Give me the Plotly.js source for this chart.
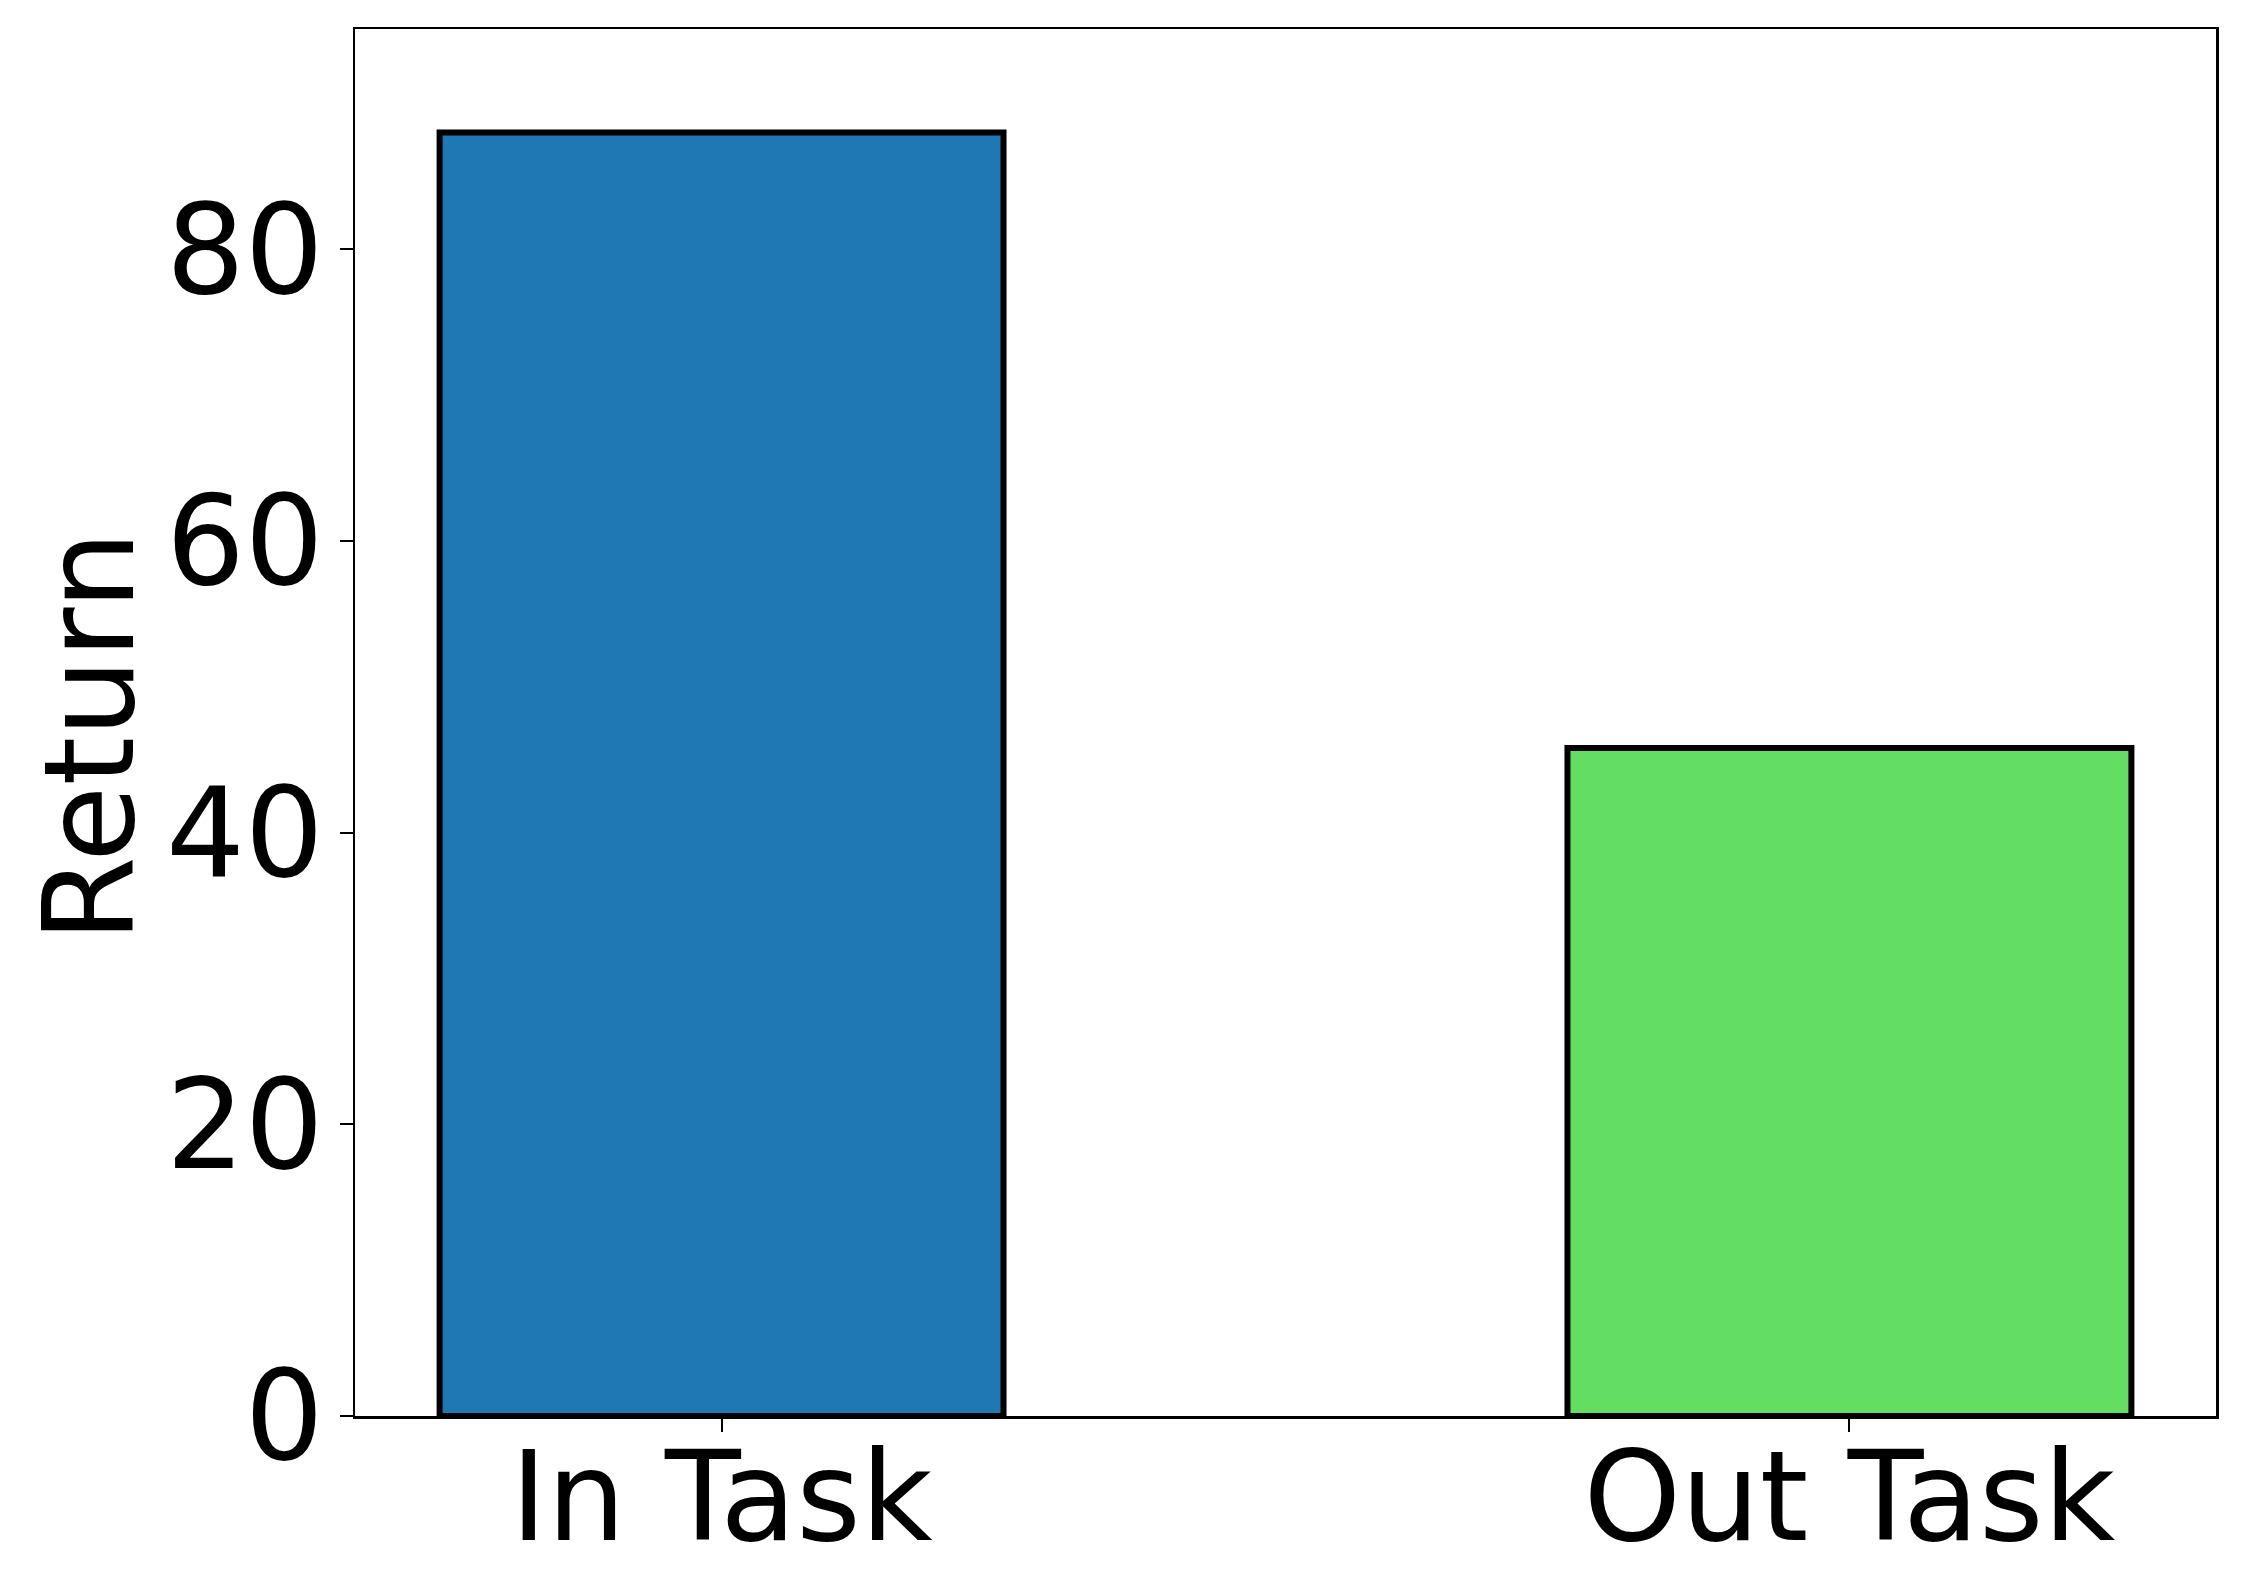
<!DOCTYPE html>
<html>
<head>
<meta charset="utf-8">
<script src="https://cdn.plot.ly/plotly-3.0.1.min.js"></script>
<style>
  html, body { margin: 0; padding: 0; background: #fff; }
  #chart { width: 2245px; height: 1596px; }
</style>
</head>
<body>
<div id="chart"></div>
<script>
// ── Data ──────────────────────────────────────────────────────────────────────
const categories = ['In Task', 'Out Task'];
const returns    = [88.0, 45.8];
const barColors  = ['#1f77b4', '#63de63'];
const yTicks     = [0, 20, 40, 60, 80];

// ── Chart ─────────────────────────────────────────────────────────────────────
const FONT = 'DejaVu Sans, sans-serif';
const FS   = 124;

const traces = [{
  type: 'bar',
  x: categories,
  y: returns,
  width: 0.5,
  marker: { color: barColors, line: { color: '#000', width: 6 } },
  hoverinfo: 'skip',
}];

Plotly.newPlot('chart', traces, {
  width: 2245, height: 1596,
  margin: { l: 355, r: 29, t: 29, b: 180 },
  paper_bgcolor: '#fff', plot_bgcolor: '#fff',
  font: { family: FONT, color: '#000', size: FS },
  showlegend: false,
  xaxis: {
    type: 'category',
    range: [-0.325, 1.325],
    showline: true, mirror: true, linecolor: '#000', linewidth: 2.5,
    ticks: 'outside', ticklen: 13, tickwidth: 2, tickcolor: '#000',
    ticklabelstandoff: -40,
    tickfont: { size: FS, family: FONT },
    showgrid: false, zeroline: false,
  },
  yaxis: {
    range: [0, 95.1],
    tickvals: yTicks,
    showline: true, mirror: true, linecolor: '#000', linewidth: 2.5,
    ticks: 'outside', ticklen: 13, tickwidth: 2, tickcolor: '#000',
    ticklabelstandoff: -9,
    tickfont: { size: FS, family: FONT },
    showgrid: false, zeroline: false,
  },
  // y-axis title as an annotation so it can sit exactly where the reference has it
  annotations: [{
    text: 'Return', textangle: -90, showarrow: false,
    xref: 'paper', yref: 'paper', x: -0.1424, y: 0.5,
    xanchor: 'center', yanchor: 'middle', yshift: -14,
    font: { size: FS, family: FONT, color: '#000' },
  }],
}, { displayModeBar: false, staticPlot: true });
</script>
</body>
</html>
